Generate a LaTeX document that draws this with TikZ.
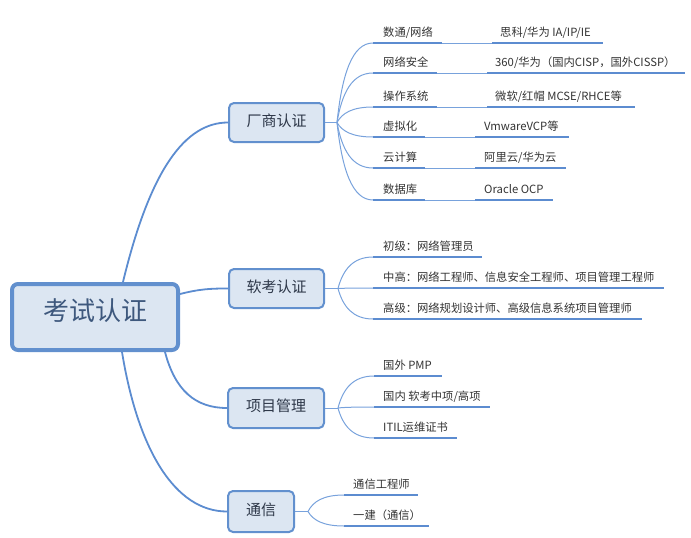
\documentclass[tikz,border=0pt]{standalone}
\usepackage{fontspec}
\setmainfont{Noto Sans CJK SC}
\usetikzlibrary{calc}
\definecolor{bd}{RGB}{98,144,206}
\definecolor{bfill}{RGB}{220,230,242}
\definecolor{ln}{RGB}{92,140,208}
\definecolor{lnl}{RGB}{120,162,220}
\definecolor{tx}{RGB}{51,51,51}
\definecolor{txa}{RGB}{45,55,72}
\definecolor{txr}{RGB}{62,88,125}
\tikzset{
  rootbox/.style={draw=bd, fill=bfill, line width=4pt, rounded corners=6pt,
    minimum width=166pt, minimum height=66pt, inner sep=0pt,
    font=\fontsize{26}{30}\selectfont, text=txr, text height=0.88em, text depth=0.12em},
  mainbox/.style={draw=bd, fill=bfill, line width=2pt, rounded corners=5pt,
    minimum height=39pt, inner sep=0pt,
    font=\fontsize{15}{18}\selectfont, text=txa, text height=0.88em, text depth=0.12em},
  leaf/.style={anchor=base west, inner sep=0pt, font=\fontsize{11.3}{14}\selectfont, text=tx},
  uline/.style={draw=ln, line width=2.6pt},
  branch/.style={draw=ln, line width=1.8pt},
  twig/.style={draw=lnl, line width=1pt},
}
\newcommand{\fanto}[2]{\draw[twig] let \p1=(#1), \p2=(#2) in (\p1) .. controls (\x1+5pt,{\y1+0.6*(\y2-\y1)}) and (\x1+15pt,\y2) .. (\p2);}
\begin{document}
\begin{tikzpicture}[x=1pt,y=-1pt]
\useasboundingbox (0,0) rectangle (691,538);
% root and main topics
\node[rootbox] (root) at (95,317) {考试认证};
\node[mainbox, minimum width=95pt] (m1) at (276.5,122.5) {厂商认证};
\node[mainbox, minimum width=95pt] (m2) at (276.5,288.5) {软考认证};
\node[mainbox, minimum width=96pt, minimum height=40pt] (m3) at (276,408) {项目管理};
\node[mainbox, minimum width=66pt, minimum height=41pt] (m4) at (261,511.5) {通信};
% root branches
\draw[branch] ([xshift=28pt]root.north) .. controls (150,170) and (185,122.5) .. (m1.west);
\draw[branch] ([yshift=23pt]root.east) .. controls (200,289) and (210,288.5) .. (m2.west);
\draw[branch] ([xshift=70pt]root.south) .. controls (175,390) and (195,408) .. (m3.west);
\draw[branch] ([xshift=27pt]root.south) .. controls (138,450) and (175,511.5) .. (m4.west);
% fan origins
\coordinate (f1) at (337,122.5);
\coordinate (f2) at (338,288.5);
\coordinate (f3) at (338,408);
\coordinate (f4) at (308,511.5);
\draw[twig] (m1.east) -- (f1);
\draw[twig] (m2.east) -- (f2);
\draw[twig] (m3.east) -- (f3);
\draw[twig] (m4.east) -- (f4);
% ---------- vendor certifications
\foreach \k/\yy/\a/\b/\c/\tA/\tB/\xt in {
  1/43/442/492/603/数通\slash 网络/思科\slash 华为 IA\slash IP\slash IE/500,
  2/73/437/487/685/网络安全/360\slash 华为（国内CISP，国外CISSP）/495,
  3/107/437/487/635/操作系统/微软\slash 红帽 MCSE\slash RHCE等/495,
  4/137/425/475/569/虚拟化/VmwareVCP等/484,
  5/168/425/475/566/云计算/阿里云\slash 华为云/484,
  6/200/425/475/553/数据库/Oracle OCP/484}{
  \coordinate (a\k) at (373,\yy);
  \coordinate (b\k) at (\a,\yy);
  \coordinate (c\k) at (\b,\yy);
  \coordinate (d\k) at (\c,\yy);
  \node[leaf] (ta\k) at (383,\yy-6.5) {\tA};
  \node[leaf] (tb\k) at (\xt,\yy-6.5) {\tB};
  \fanto{f1}{a\k}
  \draw[uline] (a\k) -- (b\k);
  \draw[twig] (b\k) -- (c\k);
  \draw[uline] (c\k) -- (d\k);
}
% ---------- soft exam
\foreach \k/\yy/\e/\t in {
  1/257/482/初级：网络管理员,
  2/288/664/中高：网络工程师、信息安全工程师、项目管理工程师,
  3/319/642/高级：网络规划设计师、高级信息系统项目管理师}{
  \coordinate (sa\k) at (373,\yy);
  \coordinate (sb\k) at (\e,\yy);
  \node[leaf] (st\k) at (383,\yy-6.5) {\t};
  \fanto{f2}{sa\k}
  \draw[uline] (sa\k) -- (sb\k);
}
% ---------- project management
\foreach \k/\yy/\e/\t in {
  1/376/442/国外 PMP,
  2/407/490/国内 软考中项\slash 高项,
  3/438/457/ITIL运维证书}{
  \coordinate (pa\k) at (374,\yy);
  \coordinate (pb\k) at (\e,\yy);
  \node[leaf] (pt\k) at (383,\yy-6.5) {\t};
  \fanto{f3}{pa\k}
  \draw[uline] (pa\k) -- (pb\k);
}
% ---------- communication
\foreach \k/\yy/\e/\t in {
  1/495/418/通信工程师,
  2/526/429/一建（通信）}{
  \coordinate (ca\k) at (344,\yy);
  \coordinate (cb\k) at (\e,\yy);
  \node[leaf] (ct\k) at (353,\yy-6.5) {\t};
  \fanto{f4}{ca\k}
  \draw[uline] (ca\k) -- (cb\k);
}
\end{tikzpicture}
\end{document}
